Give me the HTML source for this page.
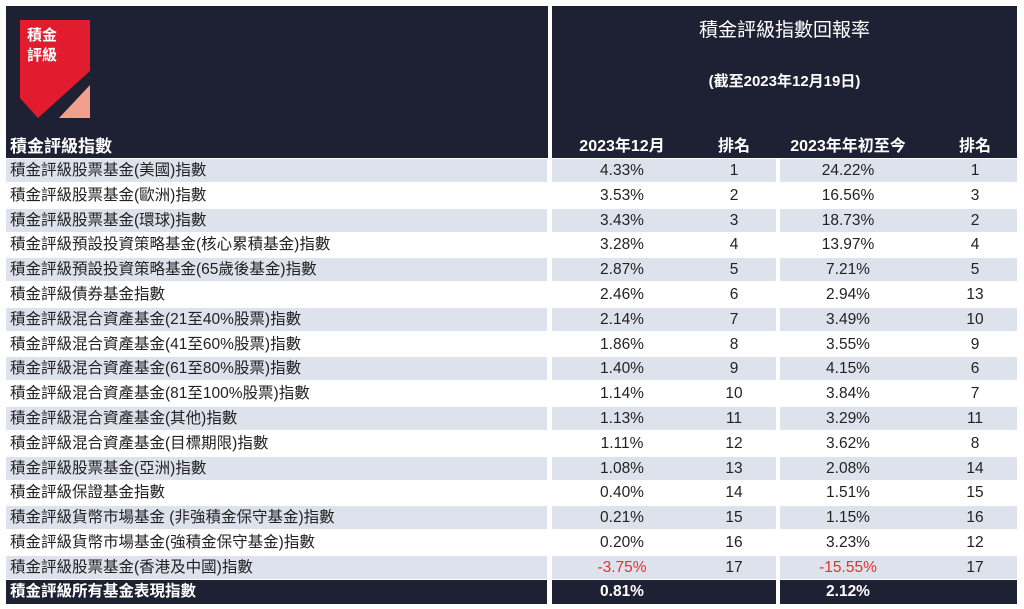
<!DOCTYPE html>
<html><head><meta charset="utf-8"><style>
body{margin:0;width:1024px;height:609px;background:#fff;position:relative;overflow:hidden;font-family:"Liberation Sans","Noto Sans CJK TC",sans-serif;color:#222;}
.d{position:absolute;background:#1e2133;}
.r{position:absolute;height:23px;}
.s{background:#dde2ec;}
.t{position:absolute;font-size:15.5px;line-height:23px;white-space:nowrap;}
.c{text-align:center;width:100px;}
.w{color:#fff;font-weight:bold;}
.neg{color:#e0342f;}
</style></head><body>
<div class="d" style="left:6px;top:6px;width:542px;height:152px"></div>
<div class="d" style="left:552px;top:6px;width:465px;height:152px"></div>
<svg style="position:absolute;left:0;top:0" width="100" height="125">
<polygon points="20,20 90,20 90,71 38,118 20,98" fill="#e31b2e"/>
<polygon points="59,118 90,118 90,85" fill="#f0a08c"/>
<text x="27" y="40" fill="#fff" font-size="15" font-weight="bold" font-family="Noto Sans CJK TC">積金</text>
<text x="27" y="60" fill="#fff" font-size="15" font-weight="bold" font-family="Noto Sans CJK TC">評級</text>
</svg>
<div class="t w" style="left:10px;top:135px;font-size:17px">積金評級指數</div>
<div class="t w" style="left:552px;width:465px;text-align:center;top:19px;font-size:19px;font-weight:normal">積金評級指數回報率</div>
<div class="t w" style="left:552px;width:465px;text-align:center;top:70px;font-size:15px">(截至2023年12月19日)</div>
<div class="t w c" style="left:572px;top:135px;font-size:16px">2023年12月</div>
<div class="t w c" style="left:684px;top:135px;font-size:16px">排名</div>
<div class="t w" style="left:778px;width:140px;text-align:center;top:135px;font-size:16px">2023年年初至今</div>
<div class="t w c" style="left:925px;top:135px;font-size:16px">排名</div>
<div id="rows"></div>
<script>
var d=[["積金評級股票基金(美國)指數","4.33%",1,"24.22%",1],["積金評級股票基金(歐洲)指數","3.53%",2,"16.56%",3],["積金評級股票基金(環球)指數","3.43%",3,"18.73%",2],["積金評級預設投資策略基金(核心累積基金)指數","3.28%",4,"13.97%",4],["積金評級預設投資策略基金(65歲後基金)指數","2.87%",5,"7.21%",5],["積金評級債券基金指數","2.46%",6,"2.94%",13],["積金評級混合資產基金(21至40%股票)指數","2.14%",7,"3.49%",10],["積金評級混合資產基金(41至60%股票)指數","1.86%",8,"3.55%",9],["積金評級混合資產基金(61至80%股票)指數","1.40%",9,"4.15%",6],["積金評級混合資產基金(81至100%股票)指數","1.14%",10,"3.84%",7],["積金評級混合資產基金(其他)指數","1.13%",11,"3.29%",11],["積金評級混合資產基金(目標期限)指數","1.11%",12,"3.62%",8],["積金評級股票基金(亞洲)指數","1.08%",13,"2.08%",14],["積金評級保證基金指數","0.40%",14,"1.51%",15],["積金評級貨幣市場基金 (非強積金保守基金)指數","0.21%",15,"1.15%",16],["積金評級貨幣市場基金(強積金保守基金)指數","0.20%",16,"3.23%",12],["積金評級股票基金(香港及中國)指數","-3.75%",17,"-15.55%",17]];
var h="";
for(var i=0;i<d.length;i++){var y=Math.round(159+i*24.8);var r=d[i];var n=r[1][0]=="-"?" neg":"";
if(i%2==0){h+='<div class="r s" style="left:6px;width:541px;top:'+y+'px"></div><div class="r s" style="left:552px;width:224px;top:'+y+'px"></div><div class="r s" style="left:780px;width:237px;top:'+y+'px"></div>';}
h+='<div class="t" style="left:10px;top:'+y+'px">'+r[0]+'</div><div class="t c'+n+'" style="left:572px;top:'+y+'px">'+r[1]+'</div><div class="t c" style="left:684px;top:'+y+'px">'+r[2]+'</div><div class="t c'+n+'" style="left:798px;top:'+y+'px">'+r[3]+'</div><div class="t c" style="left:925px;top:'+y+'px">'+r[4]+'</div>';}
var y=580;
h+='<div class="r d" style="left:6px;width:541px;top:'+y+'px;height:24px"></div><div class="r d" style="left:552px;width:224px;top:'+y+'px;height:24px"></div><div class="r d" style="left:780px;width:237px;top:'+y+'px;height:24px"></div>';
h+='<div class="t w" style="left:10px;top:'+y+'px">積金評級所有基金表現指數</div><div class="t w c" style="left:572px;top:'+y+'px">0.81%</div><div class="t w c" style="left:798px;top:'+y+'px">2.12%</div>';
document.getElementById("rows").innerHTML=h;
</script>
</body></html>
